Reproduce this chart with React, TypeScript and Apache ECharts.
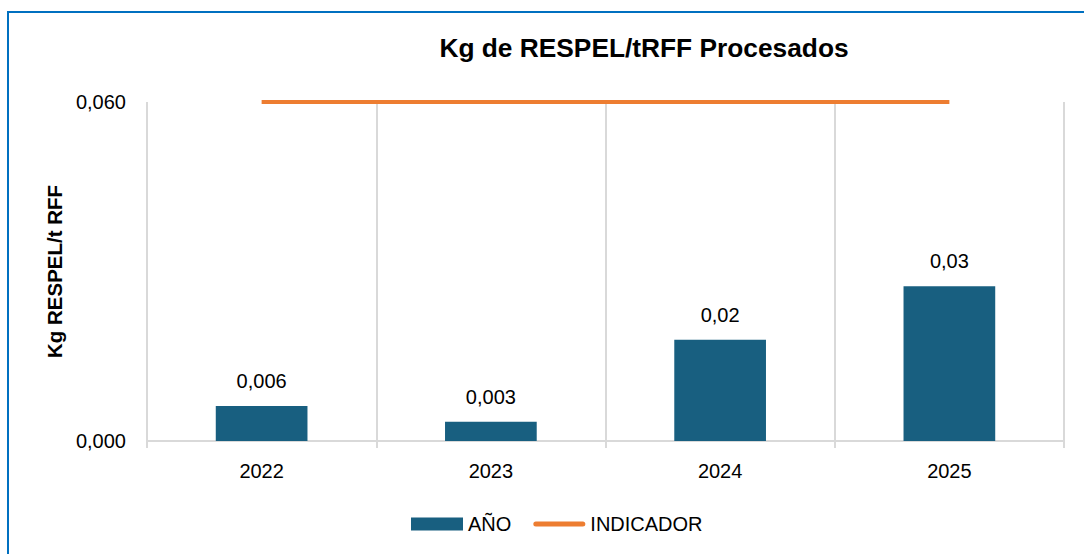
import React, { useEffect, useRef } from "react";
import * as echarts from "echarts";

const categories = ["2022", "2023", "2024", "2025"];
const anoValues = [0.0062, 0.0034, 0.0179, 0.0274];
const anoLabels = ["0,006", "0,003", "0,02", "0,03"];
const indicadorValues = [0.06, 0.06, 0.06, 0.06];
const yMin = 0;
const yMax = 0.06;

const FONT = "'Liberation Sans Narrow', 'Liberation Sans', Arial, sans-serif";
const WIDE = "'Liberation Sans', Arial, sans-serif";
const FS = 20;

export default function App() {
  const ref = useRef<HTMLDivElement>(null);
  useEffect(() => {
    if (!ref.current) return;
    const chart = echarts.init(ref.current, undefined, { renderer: "svg" });
    chart.setOption({
      animation: false,
      backgroundColor: "transparent",
      title: {
        text: "Kg de RESPEL/tRFF Procesados",
        left: 639,
        textAlign: "center",
        top: 30,
        textStyle: { fontFamily: WIDE, fontWeight: "bold", fontSize: 26.3, color: "#000" },
      },
      legend: {
        left: 406,
        top: 509,
        itemWidth: 52,
        itemHeight: 13,
        itemGap: 22,
        textStyle: { fontFamily: FONT, fontSize: FS, color: "#000" },
        data: [
          { name: "AÑO", icon: "rect" },
          {
            name: "INDICADOR",
            icon: "path://M2.5,0 L49.5,0 A2.5,2.5 0 0 1 49.5,5 L2.5,5 A2.5,2.5 0 0 1 2.5,0 Z",
            itemStyle: { color: "#ED7D31" },
          },
        ],
      },
      grid: { left: 147, right: 20, top: 102, bottom: 113, containLabel: false },
      xAxis: {
        type: "category",
        data: categories,
        boundaryGap: true,
        axisLine: { show: true, lineStyle: { color: "#d9d9d9", width: 2 } },
        axisTick: { show: true, length: 7, lineStyle: { color: "#d9d9d9", width: 2 } },
        splitLine: { show: true, lineStyle: { color: "#d9d9d9", width: 2 } },
        axisLabel: { fontFamily: FONT, fontSize: FS, color: "#000", margin: 20 },
      },
      yAxis: {
        type: "value",
        min: yMin,
        max: yMax,
        interval: 0.06,
        name: "Kg RESPEL/t RFF",
        nameLocation: "middle",
        nameGap: 82,
        nameTextStyle: { fontFamily: WIDE, fontWeight: "bold", fontSize: 20.5, color: "#000" },
        axisLine: { show: false },
        axisTick: { show: false },
        splitLine: { show: false },
        axisLabel: {
          fontFamily: FONT,
          fontSize: FS,
          color: "#000",
          margin: 21,
          formatter: (v: number) => v.toFixed(3).replace(".", ","),
        },
      },
      series: [
        {
          name: "AÑO",
          type: "bar",
          data: anoValues,
          barWidth: "40%",
          itemStyle: { color: "#185f80" },
          label: {
            show: true,
            position: "top",
            distance: 15,
            fontFamily: FONT,
            fontSize: FS,
            color: "#000",
            formatter: (p: any) => anoLabels[p.dataIndex],
          },
        },
        {
          name: "INDICADOR",
          type: "line",
          data: indicadorValues,
          symbol: "none",
          clip: false,
          z: 5,
          lineStyle: { color: "#ED7D31", width: 4 },
          itemStyle: { color: "#ED7D31" },
        },
      ],
    });
    return () => chart.dispose();
  }, []);

  return (
    <div style={{ position: "fixed", left: 0, top: 0, width: 1084, height: 554, overflow: "hidden", background: "#fff" }}>
      <div
        style={{
          position: "absolute",
          left: 7,
          top: 11,
          width: 1200,
          height: 700,
          borderLeft: "2px solid #0070C0",
          borderTop: "2px solid #0070C0",
        }}
      />
      <div ref={ref} style={{ position: "absolute", left: 0, top: 0, width: 1084, height: 554 }} />
    </div>
  );
}
